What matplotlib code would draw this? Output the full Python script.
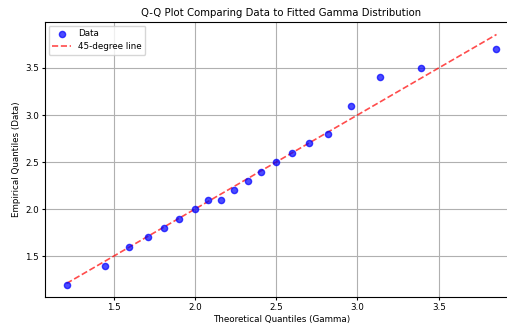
import matplotlib.pyplot as plt
import numpy as np

# theoretical gamma quantiles (x) vs sorted sample (y)
theoretical = [1.211, 1.45, 1.598, 1.715, 1.81, 1.905, 2.0, 2.08, 2.16, 2.24,
               2.325, 2.41, 2.5, 2.6, 2.705, 2.82, 2.96, 3.14, 3.39, 3.855]
empirical = [1.2, 1.4, 1.6, 1.7, 1.8, 1.9, 2.0, 2.1, 2.1, 2.2,
             2.3, 2.4, 2.5, 2.6, 2.7, 2.8, 3.1, 3.4, 3.5, 3.7]

fs = 6.3
plt.rcParams['font.size'] = fs

fig = plt.figure(figsize=(5.07, 3.25), dpi=100)
ax = fig.add_axes([45 / 507, 28 / 325, 473 / 507, 275 / 325])

ax.scatter(theoretical, empirical, color='blue', alpha=0.7, s=20, label='Data', zorder=3)
lo, hi = min(theoretical), max(theoretical)
ax.plot([lo, hi], [lo, hi], color='red', linestyle='--', alpha=0.7, lw=1.2, label='45-degree line')

ax.set_title('Q-Q Plot Comparing Data to Fitted Gamma Distribution', fontsize=7.3, pad=4)
ax.set_xlabel('Theoretical Quantiles (Gamma)', labelpad=2)
ax.set_ylabel('Empirical Quantiles (Data)', labelpad=3)
ax.set_xticks([1.5, 2.0, 2.5, 3.0, 3.5])
ax.set_yticks([1.5, 2.0, 2.5, 3.0, 3.5])
ax.tick_params(length=2.5, pad=2)
ax.grid(True, lw=0.8)
ax.legend(loc='upper left', borderaxespad=0.4, handlelength=2.2)

fig.savefig('out.png', dpi=100)
